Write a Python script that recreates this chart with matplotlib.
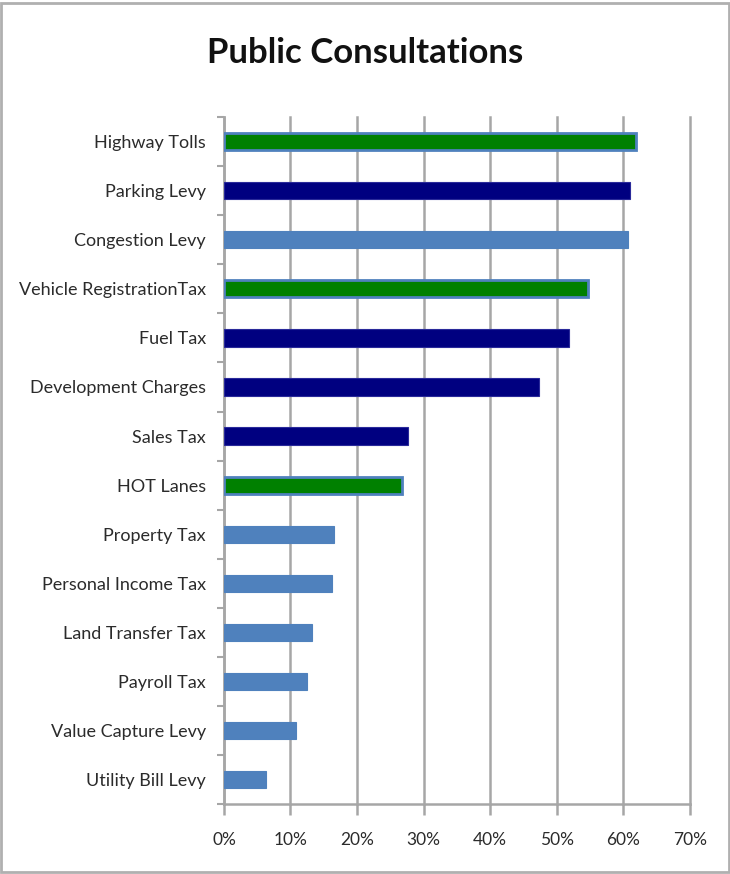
import matplotlib.pyplot as plt
from matplotlib.patches import Rectangle
import numpy as np

# data (top to bottom)
categories = ["Highway Tolls", "Parking Levy", "Congestion Levy",
              "Vehicle RegistrationTax", "Fuel Tax", "Development Charges",
              "Sales Tax", "HOT Lanes", "Property Tax", "Personal Income Tax",
              "Land Transfer Tax", "Payroll Tax", "Value Capture Levy",
              "Utility Bill Levy"]
values = [62.0, 61.0, 60.7, 54.7, 51.9, 47.3, 27.6, 26.8, 16.6, 16.3,
          13.2, 12.5, 10.8, 6.3]
groups = ["green", "navy", "blue", "green", "navy", "navy", "navy", "green",
          "blue", "blue", "blue", "blue", "blue", "blue"]
xticks = [0, 10, 20, 30, 40, 50, 60, 70]

fill = {"green": "#008000", "navy": "#000080", "blue": "#4F81BD"}
edge = {"green": "#4F81BD", "navy": "#2a2a9a", "blue": "#4F81BD"}
lw = {"green": 2.0, "navy": 0.8, "blue": 0.8}

plt.rcParams['font.family'] = ['Lato', 'DejaVu Sans']

fig = plt.figure(figsize=(7.3, 8.74), dpi=100)
ax = fig.add_axes([0.3068, 0.080, 0.638, 0.786])

y = np.arange(len(categories))
for i in range(len(categories)):
    g = groups[i]
    ax.barh(y[i], values[i], height=0.35, color=fill[g],
            edgecolor=edge[g], linewidth=lw[g], zorder=3)

ax.set_ylim(len(categories) - 0.5, -0.5)
ax.set_xlim(0, 70)

# gridlines
ax.set_xticks(xticks)
ax.set_xticklabels([str(t) + "%" for t in xticks], fontsize=12.5, color="#2b2b2b")
ax.xaxis.grid(True, color="#a6a6a6", linewidth=1.8, zorder=0)
for gl in ax.get_xgridlines():
    gl.set_clip_on(False)
ax.tick_params(axis='x', length=8, width=1.8, color="#a6a6a6", pad=12)

ax.set_yticks(y)
ax.set_yticklabels(categories, fontsize=13, color="#2b2b2b")
ax.set_yticks(np.arange(-0.5, len(categories) + 0.5, 1), minor=True)
ax.tick_params(axis='y', which='major', length=0, pad=13)
ax.tick_params(axis='y', which='minor', length=5, width=1.5, color="#a6a6a6")

for s in ['top', 'right']:
    ax.spines[s].set_visible(False)
for s in ['left', 'bottom']:
    ax.spines[s].set_color("#a6a6a6")
    ax.spines[s].set_linewidth(1.8)

fig.text(0.5, 0.939, "Public Consultations", ha='center', va='center',
         fontsize=25, fontweight='bold', color="#111111")

# chart area border
fig.patches.append(Rectangle((0.002, 0.002), 0.996, 0.995, transform=fig.transFigure,
                             fill=False, edgecolor="#b0b0b0", linewidth=2))

fig.savefig("out.png", dpi=100)
